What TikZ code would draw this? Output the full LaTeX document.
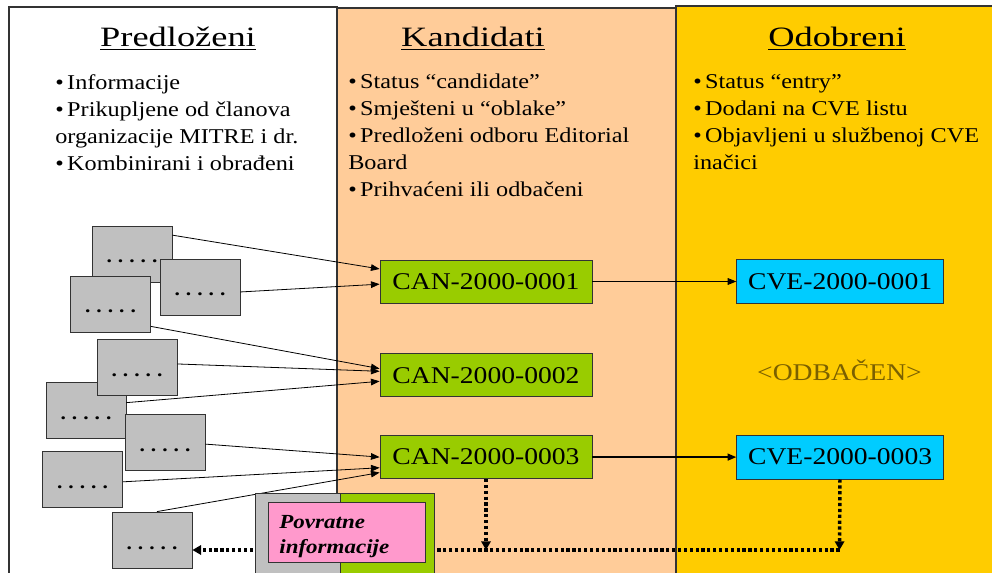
\documentclass[tikz,border=0pt]{standalone}
\usepackage{fontspec}
\setmainfont{Liberation Serif}[FakeStretch=1.15]
\newfontfamily\headfont{Liberation Serif}[FakeStretch=1.3]
\usepackage{xcolor}
\usetikzlibrary{arrows.meta,positioning}
\definecolor{peach}{HTML}{FFCC99}
\definecolor{gold}{HTML}{FFCC00}
\definecolor{lime}{HTML}{99CC00}
\definecolor{sky}{HTML}{00CCFF}
\definecolor{silver}{HTML}{C0C0C0}
\definecolor{rose}{HTML}{FF99CC}
\definecolor{ink}{HTML}{333333}
\definecolor{dropped}{HTML}{7A6000}
\newcommand{\fivedots}{\textbf{.\hspace{4.5pt}.\hspace{4.5pt}.\hspace{4.5pt}.\hspace{4.5pt}.}}

\begin{document}
\begin{tikzpicture}[
    x=0.75pt, y=-0.75pt,
    column/.style={draw=ink, line width=1pt},
    head/.style={anchor=base, inner sep=0pt, font=\headfont\fontsize{21pt}{24pt}\selectfont},
    list/.style={anchor=north west, align=left, inner sep=0pt, font=\fontsize{15.8pt}{20.25pt}\selectfont},
    sub/.style={draw=ink, line width=0.6pt, fill=silver, minimum width=60pt, minimum height=42pt,
                inner sep=0pt, text height=13.5pt, text depth=0pt, font=\fontsize{14pt}{16pt}\selectfont},
    can/.style={draw=ink, line width=0.6pt, fill=lime, minimum width=159pt, minimum height=32.25pt,
                inner sep=0pt, font=\fontsize{18pt}{20pt}\selectfont},
    cve/.style={can, fill=sky, minimum width=155pt, minimum height=33pt},
    feed/.style={draw=ink, line width=0.6pt, fill=rose, minimum width=117.75pt, minimum height=45pt,
                 text width=101.25pt, inner xsep=8.25pt, align=left,
                 font=\bfseries\itshape\fontsize{15pt}{18.75pt}\selectfont},
    sublink/.style={-{Triangle[length=6.5pt,width=5pt]}, line width=0.6pt, draw=black},
    promote/.style={-{Triangle[length=6.5pt,width=5pt]}, line width=0.7pt, draw=black},
    fb/.style={-{Triangle[length=6.5pt,width=7pt]}, line width=2.6pt, dash pattern=on 2.4pt off 2pt, draw=black}
  ]

  \clip (0,0) rectangle (992,573);
  \fill[white] (0,0) rectangle (992,573);

  %%%%%%%%%%%%% Columns %%%%%%%%%%%%%
  \filldraw[column, fill=white] (9,7) rectangle (337,590);
  \filldraw[column, fill=peach] (337,8) rectangle (676,590);
  \filldraw[column, fill=gold] (676,6) rectangle (1010,590);

  %%%%%%%%%%%%% Headings and bullets %%%%%%%%%%%%%
  \node[head] (hPred) at (178,47) {\underline{Predloženi}};
  \node[head] (hKand) at (473,47) {\underline{Kandidati}};
  \node[head] (hOdob) at (837,47) {\underline{Odobreni}};

  \node[list] (lPred) at (55,74) {•\,Informacije\\•\,Prikupljene od članova\\organizacije MITRE i dr.\\•\,Kombinirani i obrađeni};
  \node[list] (lKand) at (348,74) {•\,Status “candidate”\\•\,Smješteni u “oblake”\\•\,Predloženi odboru Editorial\\Board\\•\,Prihvaćeni ili odbačeni};
  \node[list] (lOdob) at (693,74) {•\,Status “entry”\\•\,Dodani na CVE listu\\•\,Objavljeni u službenoj CVE\\inačici};

  %%%%%%%%%%%%% Submissions %%%%%%%%%%%%%
  \node[sub] (sub1) at (132,254) {\fivedots};
  \node[sub] (sub2) at (200,287) {\fivedots};
  \node[sub] (sub3) at (110.5,304) {\fivedots};
  \node[sub] (sub5) at (86,410.5) {\fivedots};
  \node[sub] (sub4) at (137,367.5) {\fivedots};
  \node[sub] (sub6) at (165,442) {\fivedots};
  \node[sub] (sub7) at (82.5,479) {\fivedots};
  \node[sub] (sub8) at (152,540) {\fivedots};

  %%%%%%%%%%%%% Candidates and entries %%%%%%%%%%%%%
  \node[can] (can1) at (486,281.5) {CAN-2000-0001};
  \node[can, below=37.5pt of can1] (can2) {CAN-2000-0002};
  \node[can, below=28.5pt of can2] (can3) {CAN-2000-0003};
  \node[cve, right=108pt of can1] (cve1) {CVE-2000-0001};
  \node[cve, right=108pt of can3] (cve3) {CVE-2000-0003};
  \node[text=dropped, font=\fontsize{18pt}{20pt}\selectfont] (odb) at (839.5,370) {<ODBAČEN>};

  %%%%%%%%%%%%% Submissions -> Candidates %%%%%%%%%%%%%
  \draw[sublink] (sub1.25) -- ([yshift=9.4pt]can1.west);
  \draw[sublink] (sub2.-7) -- ([yshift=-2pt]can1.west);
  \draw[sublink] (sub3.-29) -- ([yshift=5pt]can2.west);
  \draw[sublink] (sub4.5) -- ([yshift=3pt]can2.west);
  \draw[sublink] (sub5.11) -- ([yshift=-4.5pt]can2.west);
  \draw[sublink] (sub6.-3) -- (can3.west);
  \draw[sublink] (sub7.-4) -- ([yshift=-8pt]can3.west);
  \draw[sublink] (sub8.80) -- ([yshift=-11.6pt]can3.west);

  %%%%%%%%%%%%% Candidates -> Entries %%%%%%%%%%%%%
  \draw[promote] (can1) -- (cve1);
  \draw[promote, line width=1.4pt] (can3) -- (cve3);

  %%%%%%%%%%%%% Feedback %%%%%%%%%%%%%
  \coordinate (fbM) at (486,550);
  \coordinate (fbR) at (839.5,550);
  \draw[fb] (can3) -- (fbM);
  \draw[fb] (cve3) -- (fbR);
  \draw[fb] (fbR) -- (fbR -| sub8.east);

  \node[draw=ink, line width=0.6pt, fill=silver, anchor=north west, minimum width=63.75pt, minimum height=70pt] (stackS) at (255,493) {};
  \node[draw=ink, line width=0.6pt, fill=lime, anchor=north west, minimum width=70.5pt, minimum height=70pt] (stackC) at (340,493) {};
  \node[feed, anchor=north west] (fback) at (268,502) {\rule{0pt}{15.5pt}Povratne\\informacije};

  \end{tikzpicture}
\end{document}
